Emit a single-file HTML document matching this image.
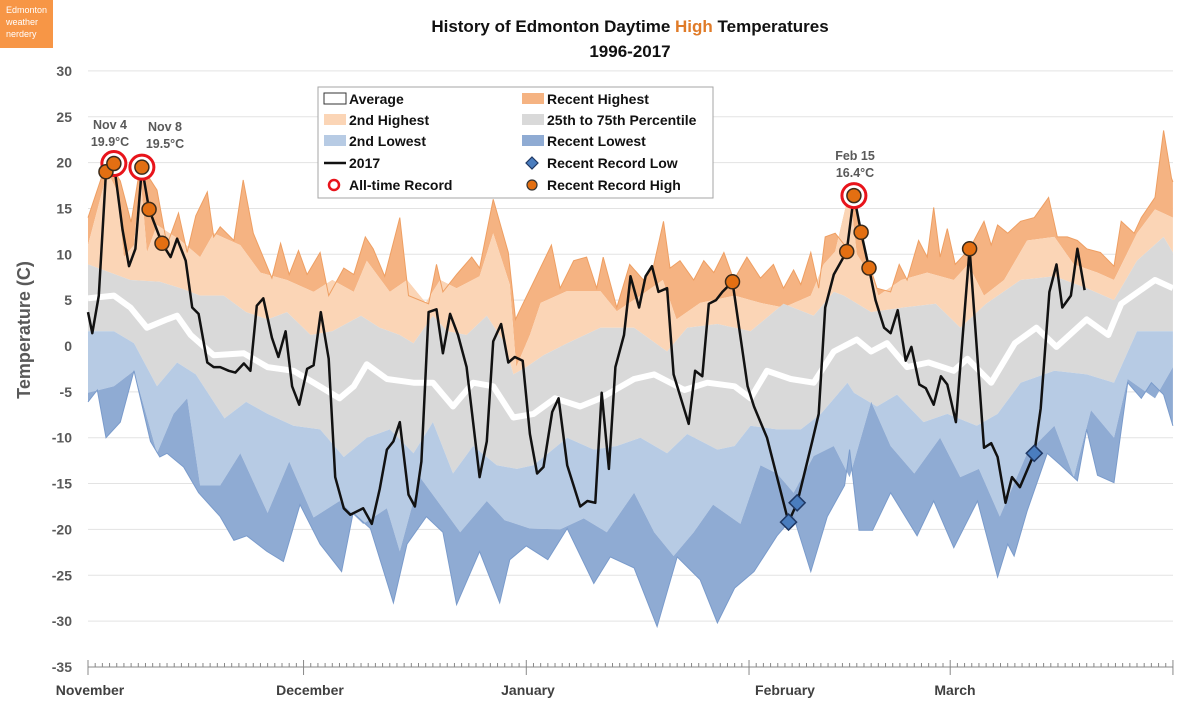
<!DOCTYPE html>
<html><head><meta charset="utf-8"><style>
body{margin:0;background:#fff;width:1200px;height:727px;overflow:hidden;font-family:"Liberation Sans",sans-serif}
#logo{position:absolute;left:0;top:0;width:53px;height:48px;background:#F79646;color:#fff;font-size:9px;line-height:12px;padding:4px 0 0 6px;box-sizing:border-box}
</style></head><body>
<div id="logo">Edmonton<br>weather<br>nerdery</div>
<svg id="chart" width="1200" height="727" style="position:absolute;left:0;top:0"></svg>
<script>
const rhDays=[0,2.7,4.5,6,7.3,9.6,11,12.6,13.8,15,16.6,17.5,18.4,20.3,21.6,23,25.6,26.8,28,29.3,30.5,32.3,33.5,35.6,37,38.6,39.7,41.3,43.4,44.6,47.4,48.5,49.4,51.3,53.4,54.5,56.4,58.5,59.5,60.4,62.4,64.5,65.7,67.6,69.4,70.8,71.7,73.6,75.4,77.3,78.7,80.1,81,82.4,84.3,85.7,87.1,88.5,89.9,91.7,93.6,95.4,96.8,98.2,99.2,100.6,101.7,102.6,104,105.7,106.6,107.5,109.8,111.7,112.9,114,115.6,116.8,117.7,118.6,119.6,120.7,122.7,124.7,125.7,126.6,128,129.8,131.7,133.7,134.9,136.3,137.7,139,140.9,142.8,143.8,145.6,146.6,148.5,149.7,150.8,151];
const rhVals=[14,20.3,18,13.5,19.8,17,11,14.5,10.2,14.2,16.8,11.9,13,11.5,18.1,12.3,7.4,11.2,7.8,10.4,7.8,10.2,5.5,8.5,7.8,11.9,10.6,7.6,14,5.5,4.6,8.9,5.9,7.8,9.7,8.5,16,10.2,2.9,4.4,7.6,11,6.3,9.3,9.7,6.3,9.7,4.2,8.9,7.2,8.7,13.6,8.5,9.3,7.2,9.3,8,10.2,7.2,9.7,7.4,8.9,6.3,8.3,6.7,10.2,6.3,11.9,12.3,10.6,17.5,11.9,6.3,5.9,8.9,7.2,11.5,9.7,15.1,9.7,12.8,8.9,10.6,13.6,11,13.2,12.3,13.6,14,16.2,11.9,11.9,11.5,10.6,10.2,8.7,13.6,12.3,14,16.2,23.5,18.3,17.9];
const h2Days=[0,2.7,4,5,6.4,7.3,8.2,9.6,12.9,15.6,17.5,21.2,24,27.7,31.4,34,37,38.8,42,44.4,47,49,51.3,54.5,56.4,58.7,59.6,61.5,63,66.7,71.3,73.6,76.9,80,81.9,85.2,90,93.6,96.8,100.6,102.4,104,106,107,109.3,110,113.2,116.8,120.5,122.5,124.7,127.5,130.7,134.5,137.2,140.5,142.8,146,148.5,151];
const h2Vals=[11,19,17,9.7,11,18.5,10.2,13.2,11.5,9.7,12.3,11,8,7.2,5.9,7.2,5.9,9.3,5.9,7.2,4.7,7.2,6.3,7.6,12.3,6.7,-2.3,1.2,4.7,6,6,3.8,5.5,7.2,2.9,4.7,5.5,4.7,4.2,5.5,8.9,10.3,17,10,7.2,5.5,7.2,8,7.2,8.9,5.5,7.2,11.5,11.9,8.9,8,7.2,12.3,14.9,14];
const p75Days=[0,5.9,10,12.9,15.6,18.9,22,25,27.7,31,34,38,40.6,43.4,45.3,48,50,52.7,55.5,58,59.2,61,63.4,66.7,71.3,76,80.6,83.4,87.6,92.2,96.8,101,103.8,105.2,109,113.5,118,121.4,125,129.8,134.5,139,142.8,146,149.7,151];
const p75Vals=[8.9,7.2,7,6.3,5.5,5.5,3.7,2.9,3.7,1.2,1.6,3.3,2,1.2,0.3,3.3,1.6,1.2,3.3,0.3,-3.1,-2.3,-1,0.3,2,2,-0.6,2,2.4,1.6,4.6,3.3,5.9,5.5,3.7,4.2,4.6,2,4.6,7.2,7.6,6.3,5,9.3,11.9,10.2];
const avgDays=[0,3.6,5.9,8.2,11,12.4,14.3,17.5,21.7,25,28.6,31.4,35,37,38.8,41.6,45.3,48,50.8,53.6,56.4,59.2,62,65,68.5,71.3,76,78.8,83,86.2,90,92.2,94.5,97.8,101,103.8,107,109,111.2,114,117,120.5,122.4,125.7,129,132,134.8,139,142,143.8,148.5,151];
const avgVals=[5.2,5.5,4.2,2,2.9,3.3,1.2,-1,-0.8,-2.3,-2.7,-4,-5.7,-4.4,-2,-3.6,-4,-4,-6.6,-4,-4.4,-7.8,-7.4,-5.7,-6.6,-5.7,-3.6,-3.1,-4.8,-4,-4.4,-5.7,-2.7,-3.6,-4,-0.6,0.7,-0.6,0.3,-2.3,-1.8,-2.7,-1.4,-4,0.3,2,-0.1,2.9,1.2,4.6,7.2,6.3];
const p25Days=[0,3.6,6.4,9.6,12.4,15,19,22,25,28.6,32.3,35.6,38.8,42,45.3,48,50.8,53.6,56.9,59.7,62,66.7,70.4,73.6,76.9,80.6,83.4,87.6,90,92.2,95.9,99.2,102,105.7,106.6,109.8,112.6,116.3,119.6,123.7,126.6,129.8,134.5,139,142.8,146,151];
const p25Vals=[1.6,1.6,0.3,-4.4,-1.8,-3.1,-7.9,-6.1,-7.4,-8.7,-9.1,-12.1,-10,-9.1,-11.7,-8.3,-13.9,-10.9,-13,-13.4,-13,-10,-11.3,-10.9,-10,-11.7,-9.6,-11.3,-10.9,-8.7,-9.1,-9.1,-7.4,-4,-5.1,-6.6,-5.3,-8.3,-7.4,-8.7,-7.4,-4,-2.7,-3.1,-4,1.6,1.6];
const l2Days=[0,3.6,6.4,9.6,11.9,13.8,15.6,18.4,21.2,25,28,31.4,35,38.3,41.6,43.4,46.2,49,51.8,55.5,58,61.5,65.7,69,72.2,76,78.8,81.5,84.3,87,90.8,93.6,95.9,98.2,101,103.8,106,109,111.7,115,118.6,121.4,124,126.9,130.7,134.5,137.2,139.6,142.8,144.7,148.5,151];
const l2Vals=[-5.1,-4.4,-2.7,-11.7,-7.4,-5.7,-15.2,-15.2,-11.7,-18.2,-12.6,-18.7,-16.9,-19.4,-17.7,-22.4,-14.3,-17.3,-20.3,-16.9,-19,-19.9,-20,-18.8,-20.3,-16,-20.3,-22.9,-20.3,-17.3,-19.4,-13,-13.9,-16,-12,-10.9,-14.3,-6.1,-10.9,-13.9,-10,-14.3,-13.4,-18.6,-11.7,-8.7,-14.3,-7,-10,-3.6,-5.7,-2.3];
const rlDays=[0,1.3,2.5,4.5,6.4,8.7,10,11,13.3,15.4,18.4,20.3,22.1,24.9,27.2,29.5,32.3,35.3,36.9,39.3,42.5,44.4,47.1,49.4,51.3,54.5,57.3,58.7,61,64,66.7,70.4,72.7,76,79.2,82,85.2,87.6,90,92.7,95.9,98.2,100.6,102.9,105.3,106,107.3,109.2,111.7,115.4,117.7,120.5,123.8,126.6,128,128.9,130.7,133.5,135.4,137.7,139,140.5,142.8,144.7,146.6,148,149.7,151];
const rlVals=[-6.1,-4.8,-10,-8.3,-2.7,-10.4,-12.1,-11.7,-13.2,-16,-18.6,-21.2,-20.7,-22.4,-23.5,-17.3,-21.6,-24.6,-18.2,-19.9,-28,-21.6,-18.6,-20.3,-28.2,-22.4,-28,-23.3,-21.8,-23.3,-19.9,-25.9,-23,-24.2,-30.6,-23,-25.5,-30.2,-26.4,-24.6,-20.7,-18.6,-24.6,-18.6,-15.2,-11.3,-20.1,-20.1,-16,-20.7,-16.9,-22,-16.9,-25.2,-21.6,-22.9,-18,-11.7,-13,-14.7,-9.1,-14.1,-14.9,-4,-5.7,-4,-5.3,-8.7];
const lineDays=[0,0.6,1.5,2.5,3.6,4.8,5.7,6.6,7.5,8.5,10.3,11.5,12.4,13.6,14.5,15.4,16.6,17.5,18.4,19.6,20.5,21.7,22.6,23.5,24.4,25.6,26.5,27.5,28.4,29.4,30.5,31.4,32.4,33.5,34.4,35.6,36.5,38.3,39.5,40.6,41.6,42.5,43.4,44.6,45.5,46.4,47.4,48.5,49.4,50.4,51.5,52.7,54.5,55.5,56.4,57.5,58.5,59.4,60.5,61.5,62.5,63.4,64.6,65.5,66.7,68.5,69.5,70.6,71.5,72.5,73.4,74.6,75.5,76.7,77.6,78.5,79.4,80.6,81.5,83.6,84.5,85.5,86.4,87.4,88.3,89.7,91.8,92.7,94.5,97.5,98.7,100.8,101.7,102.6,103.8,105.6,106.6,107.6,108.7,109.6,110.8,111.7,112.7,113.8,114.6,115.7,116.6,117.7,118.7,119.6,120.8,122.7,124.7,125.7,126.6,127.7,128.6,129.7,131.7,132.6,133.8,134.8,135.6,136.8,137.7,138.7];
const lineVals=[3.7,1.4,5.5,19,19.9,12.7,8.7,10.6,19.5,14.9,11.2,9.7,11.7,9.3,4.2,3.5,-1.8,-2.3,-2.3,-2.7,-2.9,-1.9,-2.7,4.4,5.2,0.9,-1.2,1.6,-4.4,-6.4,-2.5,-2.1,3.7,-1.4,-14.3,-17.7,-18.4,-17.7,-19.4,-15.6,-11.3,-10.4,-8.3,-16.2,-17.5,-12.6,3.7,4,-0.8,3.5,1.2,-2.3,-14.3,-10.4,0.5,2.4,-1.8,-1.2,-1.6,-9.6,-13.9,-13.2,-7.2,-5.7,-13,-17.5,-16.9,-17.1,-5.1,-13.4,-2.3,1.2,7.6,4.2,7.6,8.7,5.9,6.3,-3.1,-8.5,-2.7,-3.3,4.6,5,5.9,7,-4.4,-6.6,-10,-19.2,-17.1,-10.4,-7.4,4.2,7.8,10.3,16.4,12.4,8.5,5,2,1.4,3.9,-1.6,-0.1,-4.2,-4.6,-6.4,-3.3,-4.2,-8.3,10.6,-11.1,-10.6,-12.1,-17.1,-14.3,-15.4,-11.7,-6.8,5.9,8.9,4.2,5.5,10.6,6.1];
const recHighDays=[2.5,3.6,7.5,8.5,10.3,89.7,105.6,106.6,107.6,108.7,122.7];
const recHighVals=[19,19.9,19.5,14.9,11.2,7,10.3,16.4,12.4,8.5,10.6];
const allTimeDays=[3.6,7.5,106.6];
const allTimeVals=[19.9,19.5,16.4];
const recLowDays=[97.5,98.7,131.7];
const recLowVals=[-19.2,-17.1,-11.7];
const yTicks=[30,25,20,15,10,5,0,-5,-10,-15,-20,-25,-30,-35];
const monthNames=['November','December','January','February','March'];
const monthStart=[0,30,61,92,120];
const monthLabelX=[90,310,528,785,955];

const NS='http://www.w3.org/2000/svg';
const svg=document.getElementById('chart');
const X0=88,DX=7.185,Y0=346,DY=9.17;
const xs=d=>X0+d*DX, ys=t=>Y0-t*DY;
function mk(tag,attrs,parent){const e=document.createElementNS(NS,tag);for(const k in attrs)e.setAttribute(k,attrs[k]);(parent||svg).appendChild(e);return e;}
function pts(ds,vs){return ds.map((d,i)=>xs(d).toFixed(1)+','+ys(vs[i]).toFixed(1));}

// gridlines
yTicks.forEach(t=>{
  const g=mk('line',{x1:X0,x2:1173,y1:ys(t),y2:ys(t),stroke:'#e3e3e3','stroke-width':1});
  
  
  const l=mk('text',{x:72,y:ys(t)+5,'text-anchor':'end','font-size':14,'font-weight':'bold',fill:'#595959'});
  l.textContent=t;
  
  
});

function band(td,tv,bd,bv,fill,name){
  const p=pts(td,tv).concat(pts(bd,bv).reverse());
  const e=mk('polygon',{points:p.join(' '),fill:fill});
  
  
}
band(rhDays,rhVals,h2Days,h2Vals,'#F5B382','recent-highest-band');
band(h2Days,h2Vals,p75Days,p75Vals,'#FBD5B6','second-highest-band');
band(p75Days,p75Vals,p25Days,p25Vals,'#D9D9D9','percentile-band');
band(p25Days,p25Vals,l2Days,l2Vals,'#B7CBE4','second-lowest-band');
band(l2Days,l2Vals,rlDays,rlVals,'#8FABD3','recent-lowest-band');
const rhl=mk('polyline',{points:pts(rhDays,rhVals).join(' '),fill:'none',stroke:'#EE9F63','stroke-width':1});


const rll=mk('polyline',{points:pts(rlDays,rlVals).join(' '),fill:'none',stroke:'#7A9BCB','stroke-width':1});


const avg=mk('polyline',{points:pts(avgDays,avgVals).join(' '),fill:'none',stroke:'#fff','stroke-width':6,'stroke-linejoin':'round'});


const ln=mk('polyline',{points:pts(lineDays,lineVals).join(' '),fill:'none',stroke:'#111','stroke-width':2.5,'stroke-linejoin':'round'});



allTimeDays.forEach((d,i)=>{
  const c=mk('circle',{cx:xs(d),cy:ys(allTimeVals[i]),r:12,fill:'#fff',stroke:'#E8141B','stroke-width':3});
  
  
});
recHighDays.forEach((d,i)=>{
  const c=mk('circle',{cx:xs(d),cy:ys(recHighVals[i]),r:7,fill:'#E36F12',stroke:'#3a2a1a','stroke-width':1.5});
  
  
});
recLowDays.forEach((d,i)=>{
  const x=xs(d),y=ys(recLowVals[i]);
  const c=mk('polygon',{points:`${x},${y-8} ${x+8},${y} ${x},${y+8} ${x-8},${y}`,fill:'#4A7DBE',stroke:'#1F3864','stroke-width':1.5});
  
  
});

// annotations
[[110,'Nov 4','19.9°C'],[165,'Nov 8','19.5°C'],[855,'Feb 15','16.4°C']].forEach((a,i)=>{
  const yy=i==2?160:(i==0?129:131);
  const t=mk('text',{x:a[0],y:yy,'text-anchor':'middle','font-size':12.5,'font-weight':'bold',fill:'#595959'});
  t.textContent=a[1];
  
  
  const t2=mk('text',{x:a[0],y:yy+17,'text-anchor':'middle','font-size':12.5,'font-weight':'bold',fill:'#595959'});
  t2.textContent=a[2];
  
  
});

// x axis
const ax=mk('line',{x1:X0,x2:1173,y1:667,y2:667,stroke:'#888','stroke-width':1});


for(let d=0;d<=151;d++){
  const major=monthStart.includes(d)||d==151;
  const tk=mk('line',{x1:xs(d),x2:xs(d),y1:major?660:663,y2:major?675:667,stroke:'#888','stroke-width':1});
  
  
}
monthNames.forEach((m,i)=>{
  const t=mk('text',{x:monthLabelX[i],y:695,'text-anchor':'middle','font-size':14,'font-weight':'bold',fill:'#404040'});
  t.textContent=m;
  
  
});
const yt=mk('text',{x:0,y:0,transform:'translate(30,330) rotate(-90)','text-anchor':'middle','font-size':18,'font-weight':'bold',fill:'#595959'});
yt.textContent='Temperature (C)';



// title
const t1=mk('text',{x:630,y:32,'text-anchor':'middle','font-size':17,'font-weight':'bold',fill:'#111'});
t1.innerHTML='History of Edmonton Daytime <tspan fill="#E07B28">High</tspan> Temperatures';


const t2=mk('text',{x:630,y:57,'text-anchor':'middle','font-size':17,'font-weight':'bold',fill:'#111'});
t2.textContent='1996-2017';



// legend
const lg=mk('g',{});


mk('rect',{x:318,y:87,width:395,height:111,fill:'#fff',stroke:'#a6a6a6','stroke-width':1},lg);
const items=[
 [324,99,'Average','avg'],[522,99,'Recent Highest','rh'],
 [324,120,'2nd Highest','h2'],[522,120,'25th to 75th Percentile','pct'],
 [324,141,'2nd Lowest','l2'],[522,141,'Recent Lowest','rl'],
 [324,163,'2017','line'],[522,163,'Recent Record Low','dia'],
 [324,185,'All-time Record','ring'],[522,185,'Recent Record High','dot']];
const fills={rh:'#F5B382',h2:'#FBD5B6',pct:'#D9D9D9',l2:'#B7CBE4',rl:'#8FABD3'};
items.forEach(it=>{
  const [x,y,label,k]=it;
  if(k=='avg') mk('rect',{x:x,y:y-6,width:22,height:11,fill:'#fff',stroke:'#333','stroke-width':1},lg);
  else if(fills[k]) mk('rect',{x:x,y:y-6,width:22,height:11,fill:fills[k]},lg);
  else if(k=='line') mk('line',{x1:x,x2:x+22,y1:y,y2:y,stroke:'#111','stroke-width':2.5},lg);
  else if(k=='ring') mk('circle',{cx:x+10,cy:y,r:5,fill:'#fff',stroke:'#E8141B','stroke-width':2.5},lg);
  else if(k=='dot') mk('circle',{cx:x+10,cy:y,r:5,fill:'#E36F12',stroke:'#333','stroke-width':1.2},lg);
  else if(k=='dia') mk('polygon',{points:`${x+10},${y-6} ${x+16},${y} ${x+10},${y+6} ${x+4},${y}`,fill:'#4A7DBE',stroke:'#1F3864','stroke-width':1.2},lg);
  const t=mk('text',{x:x+25,y:y+5,'font-size':14,'font-weight':'bold',fill:'#111'},lg);
  t.textContent=label;
  
  
});
</script>
</body></html>
